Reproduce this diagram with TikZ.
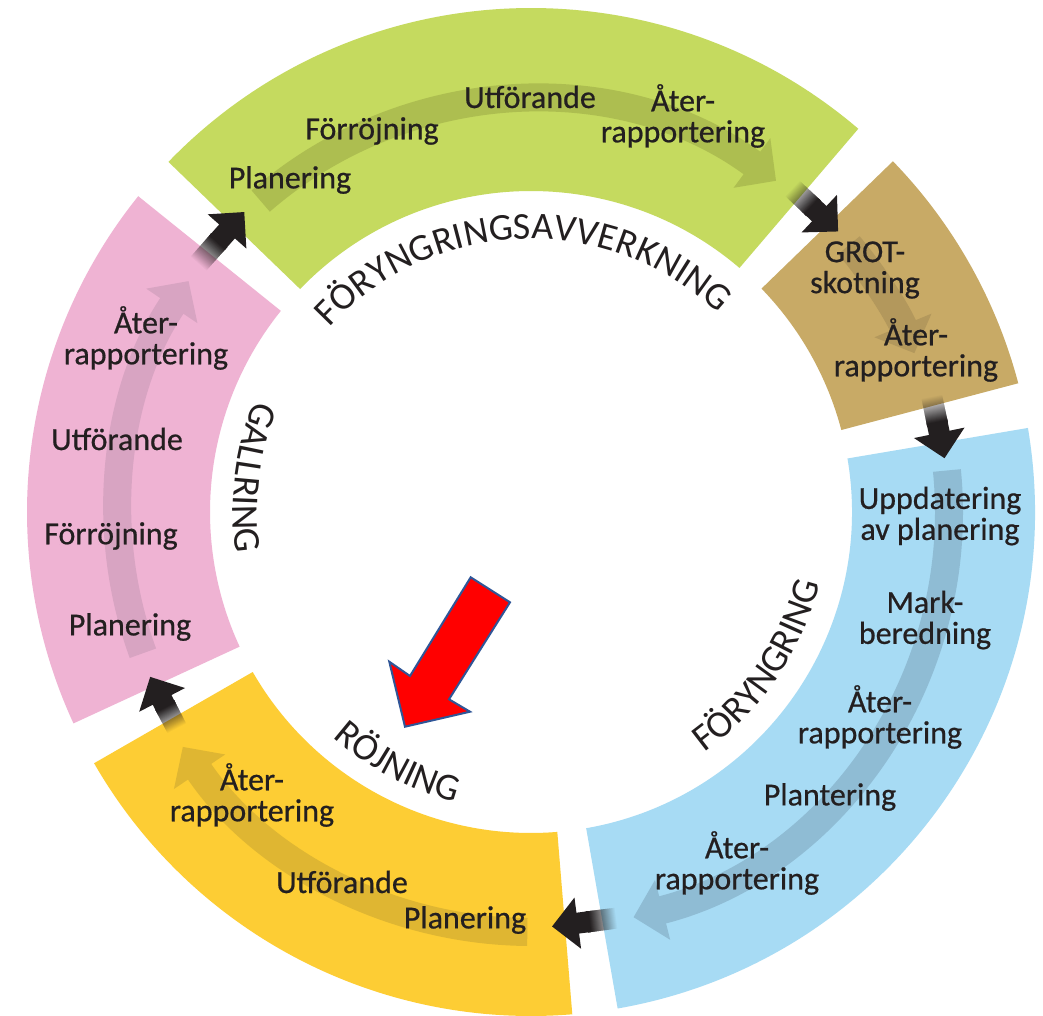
\documentclass[tikz,border=0pt]{standalone}
\usepackage{fontspec}
\setmainfont{Carlito}
\newfontfamily\bodyfam[FakeBold=0.6]{Carlito}
\usetikzlibrary{arrows.meta,decorations.text,calc}
\definecolor{cgreen}{HTML}{C5DA5F}
\definecolor{ctan}{HTML}{C8AA66}
\definecolor{cblue}{HTML}{A7DBF4}
\definecolor{cyellow}{HTML}{FDCD34}
\definecolor{cpink}{HTML}{EFB3D3}
\definecolor{agreen}{HTML}{ADBE50}
\definecolor{atan}{HTML}{B3985C}
\definecolor{ablue}{HTML}{8FBCD4}
\definecolor{ayellow}{HTML}{DFB632}
\definecolor{apink}{HTML}{D8A4C2}
\definecolor{ink}{HTML}{231F20}
\definecolor{redfill}{HTML}{FF0000}
\definecolor{redline}{HTML}{2F5597}
\newcommand\bodyfont{\bodyfam\fontsize{32}{31}\selectfont}
\newcommand\ttlfont{\fontsize{38}{38}\selectfont}
\newcommand\ringseg[3]{\fill[#3] (#1:321pt) -- (#1:504pt) arc[start angle=#1, end angle=#2, radius=504pt] -- (#2:321pt) arc[start angle=#2, end angle=#1, radius=321pt] -- cycle;}
\newcommand\linkarrow[2]{%
  \draw[link] ($(#1)!0.42!(#2)$) -- (#2);
  \foreach \i [evaluate=\i as \op using 1/(28-\i),
               evaluate=\i as \ta using \i*0.015] in {0,...,27}
    {\draw[line width=21pt, draw=ink, draw opacity=\op] ($(#1)!\ta!(#2)$) -- ($(#1)!0.45!(#2)$);}}
\begin{document}
\begin{tikzpicture}[x=1pt,y=1pt,
  lbl/.style={font=\bodyfont, text=ink, align=center, inner sep=0pt},
  flow/.style={line width=28pt, -{Triangle[width=60pt,length=30pt]}},
  link/.style={line width=21pt, draw=ink, -{Triangle[width=50pt,length=26pt]}},
  ttlpath/.style={decorate, decoration={text along path, text align=center, text={|\ttlfont\color{ink}|#1}}}
]
\useasboundingbox (-531,-503) rectangle (512,512);
\fill[white] (-531,-503) rectangle (512,512);

% ring segments
\ringseg{49.5}{136}{cgreen}
\ringseg{14.8}{44.1}{ctan}
\ringseg{-80.1}{9.6}{cblue}
\ringseg{209.9}{274.7}{cyellow}
\ringseg{141.2}{204.8}{cpink}

% flow arrows inside the segments
\draw[flow, draw=agreen] (131:412pt) arc[start angle=131, end angle=53.5, radius=412pt];
\draw[flow, draw=atan] (40:415pt) arc[start angle=40, end angle=22.5, radius=415pt];
\draw[flow, draw=ablue] (5.7:418pt) arc[start angle=5.7, end angle=-75.8, radius=418pt];
\draw[flow, draw=ayellow] (269.5:420pt) arc[start angle=269.5, end angle=214, radius=420pt];
\draw[flow, draw=apink] (200:413pt) arc[start angle=200, end angle=146, radius=413pt];

% link coordinates
\coordinate (pgT) at (143.2:415pt); \coordinate (pgH) at (133.7:415pt);
\coordinate (gtT) at (51:416pt);    \coordinate (gtH) at (42.4:416pt);
\coordinate (tbT) at (16:417pt);    \coordinate (tbH) at (7.4:417pt);
\coordinate (byT) at (-78.2:415pt); \coordinate (byH) at (-87.1:415pt);
\coordinate (ypT) at (211.4:415pt); \coordinate (ypH) at (203.4:415pt);
\linkarrow{pgT}{pgH}
\linkarrow{gtT}{gtH}
\linkarrow{tbT}{tbH}
\linkarrow{byT}{byH}
\linkarrow{ypT}{ypH}

% titles
\path[ttlpath=FÖRYNGRINGSAVVERKNING] (152:273pt) arc[start angle=152, end angle=32, radius=273pt];
\path[ttlpath=GALLRING] (113:298pt) arc[start angle=113, end angle=233, radius=298pt];
\path[ttlpath=RÖJNING] (182:300pt) arc[start angle=182, end angle=302, radius=300pt];
\path[ttlpath=FÖRYNGRING] (-94:297pt) arc[start angle=-94, end angle=26, radius=297pt];

% green labels
\node[lbl] (g1) at (-241,332) {Planering};
\node[lbl] (g2) at (-159,381) {Förröjning};
\node[lbl] (g3) at (-1,415) {Utförande};
\node[lbl] (g4) at (152,396) {Åter-\\rapportering};
% tan labels
\node[lbl] (t1) at (334,242) {GROT-\\skotning};
\node[lbl] (t2) at (385,162) {Åter-\\rapportering};
% blue labels
\node[lbl] (b1) at (409,-4) {Uppdatering\\av planering};
\node[lbl] (b2) at (394,-108) {Mark-\\beredning};
\node[lbl] (b3) at (349,-205) {Åter-\\rapportering};
\node[lbl] (b4) at (299,-285) {Plantering};
\node[lbl] (b5) at (206,-351) {Åter-\\rapportering};
% yellow labels
\node[lbl] (y1) at (-66,-408) {Planering};
\node[lbl] (y2) at (-189,-370) {Utförande};
\node[lbl] (y3) at (-279,-283) {Åter-\\rapportering};
% pink labels
\node[lbl] (p1) at (-385,174) {Åter-\\rapportering};
\node[lbl] (p2) at (-414,73) {Utförande};
\node[lbl] (p3) at (-420,-24) {Förröjning};
\node[lbl] (p4) at (-401,-115) {Planering};

% red arrow
\draw[fill=redfill, draw=redline, line width=2pt, line join=miter]
  (-60.3,-65.3) -- (-21,-90.3) -- (-82,-187.3) -- (-61,-199.7) -- (-126,-214.7)
  -- (-141.7,-149.7) -- (-121,-164) -- cycle;
\end{tikzpicture}
\end{document}
